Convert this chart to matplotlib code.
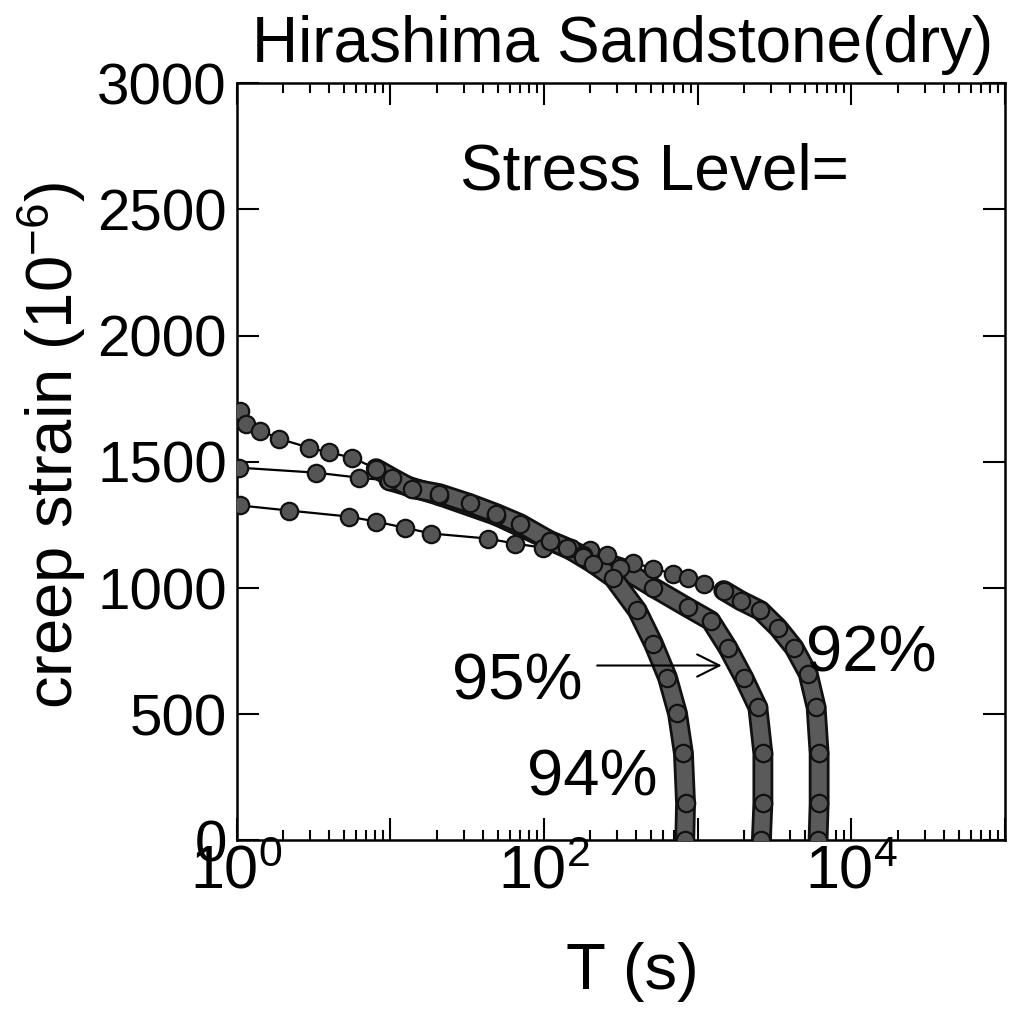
import numpy as np
import matplotlib
matplotlib.use('Agg')
import matplotlib.pyplot as plt
import matplotlib.patheffects as pe
from matplotlib.ticker import LogLocator, FuncFormatter, NullFormatter, MultipleLocator

plt.rcParams['font.family'] = ['Liberation Sans', 'DejaVu Sans']
plt.rcParams['mathtext.fontset'] = 'custom'
plt.rcParams['mathtext.rm'] = 'Liberation Sans'
plt.rcParams['mathtext.it'] = 'Liberation Sans'
plt.rcParams['mathtext.bf'] = 'Liberation Sans'

# time (s) and creep strain (1e-6)
t94 = [1.05, 1.15, 1.43, 1.88, 2.96, 4.0, 5.6, 8.1, 10.3, 13.9, 20.9, 32.8, 49, 70, 109,
       141, 180, 209, 282, 405, 516, 637, 740, 809, 835, 825]
s94 = [1700, 1651, 1624, 1592, 1556, 1537, 1517, 1473, 1437, 1394, 1374, 1335, 1295, 1255, 1188,
       1160, 1121, 1097, 1041, 911, 780, 645, 503, 345, 147, 0]

t95 = [1.03, 3.3, 6.3, 9.8, 20.9, 49, 109, 180, 314, 516, 861, 1216, 1570, 1996, 2466,
       2660, 2660, 2600]
s95 = [1477, 1457, 1437, 1426, 1366, 1287, 1188, 1129, 1081, 1002, 923, 871, 764, 645, 527,
       345, 147, 0]

t92 = [1.06, 2.19, 5.4, 8.1, 12.4, 18.5, 43, 65, 98, 150, 200, 258, 382, 516, 687, 861,
       1096, 1479, 1910, 2566, 3337, 4240, 5240, 5906, 6180, 6180, 6080]
s92 = [1327, 1307, 1283, 1263, 1239, 1216, 1196, 1176, 1160, 1158, 1150, 1130, 1101, 1077, 1057, 1038,
       1015, 990, 950, 911, 843, 764, 661, 527, 345, 147, 0]

# index where the markers become a dense band
dense = {'94': 7, '95': 3, '92': 17}

fig = plt.figure(figsize=(10.11, 10.15), dpi=100)
ax = fig.add_axes([0.234, 0.172, 0.76, 0.746])

band = [pe.Stroke(linewidth=15, foreground='#111111'), pe.Normal()]
for t, s, k in [(t92, s92, '92'), (t95, s95, '95'), (t94, s94, '94')]:
    ax.plot(t, s, '-', color='black', lw=1.6, zorder=2)
    i = dense[k]
    ax.plot(t[i:], s[i:], '-', color='#5a5a5a', lw=11, solid_capstyle='round',
            path_effects=band, zorder=3)
    ax.plot(t, s, 'o', ms=12.5, mfc='#555555', mec='#111111', mew=1.6, zorder=4)

ax.set_xscale('log')
ax.set_xlim(1, 1e5)
ax.set_ylim(0, 3000)

ax.xaxis.set_major_locator(LogLocator(base=10, numticks=10))
ax.xaxis.set_minor_locator(LogLocator(base=10, subs=np.arange(2, 10), numticks=20))
ax.xaxis.set_minor_formatter(NullFormatter())
ax.xaxis.set_major_formatter(FuncFormatter(
    lambda v, p: r'$10^{%d}$' % round(np.log10(v)) if round(np.log10(v)) % 2 == 0 else ''))
ax.yaxis.set_major_locator(MultipleLocator(500))

ax.tick_params(which='both', direction='in', top=True, right=True, width=1.5)
ax.tick_params(which='major', length=16)
ax.tick_params(which='minor', length=7)
ax.tick_params(axis='y', labelsize=42, pad=7)
ax.tick_params(axis='x', labelsize=44, pad=3)
for sp in ax.spines.values():
    sp.set_linewidth(1.8)

fig.text(623 / 1011, 1 - 45 / 1015, 'Hirashima Sandstone(dry)', fontsize=46,
         ha='center', va='center')
fig.text(52 / 1011, 1 - 445 / 1015, 'creep strain (10$^{-6}$)', fontsize=47,
         rotation=90, ha='center', va='center')
fig.text(632 / 1011, 1 - 972 / 1015, 'T (s)', fontsize=47, ha='center', va='center')
fig.text(654 / 1011, 1 - 172 / 1015, 'Stress Level=', fontsize=46, ha='center', va='center')
fig.text(517 / 1011, 1 - 682 / 1015, '95%', fontsize=47, ha='center', va='center')
fig.text(871 / 1011, 1 - 655 / 1015, '92%', fontsize=47, ha='center', va='center')
fig.text(592 / 1011, 1 - 778 / 1015, '94%', fontsize=47, ha='center', va='center')

ax.annotate('', xy=(1435, 693), xytext=(222, 693),
            arrowprops=dict(arrowstyle='->', color='black', lw=1.5, mutation_scale=40,
                            shrinkA=0, shrinkB=0))

plt.savefig('out.png', dpi=100)
